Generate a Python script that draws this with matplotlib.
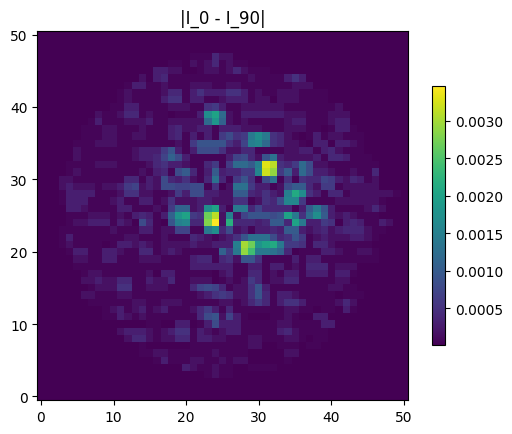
import numpy as np
import matplotlib
matplotlib.use('Agg')
import matplotlib.pyplot as plt

# grid size and colour limits
n_cells = 51
bg_level = 0.00001
peak_level = 0.00346
unit = 0.0001
# the two weakest marks are fainter than their nominal step
faint_1 = 0.00006
faint_2 = 0.00016

# values, in units of 0.0001
# row index: (first column, values from that column on)
rows = {
    47: (21, [1, 1, 1, 4, 2, 2]),
    46: (18, [1, 1, 0, 2, 1, 2, 4, 1, 2, 1, 1]),
    45: (16, [3, 3, 2, 2, 0, 0, 1, 2, 2, 1, 2, 4, 2, 1, 1, 1]),
    44: (14, [2, 0, 3, 4, 1, 1, 1, 1, 1, 1, 1, 1, 1, 1, 1, 2, 1, 1, 1, 1, 3, 5, 3]),
    43: (12, [1, 3, 3, 1, 1, 2, 1, 1, 1, 2, 2, 2, 1, 1, 2, 2, 1, 1, 1, 1, 1, 1, 1, 2, 2, 2]),
    42: (11, [1, 2, 1, 1, 1, 1, 2, 4, 4, 1, 3, 5, 3, 3, 3, 5, 5, 3, 1, 2, 1, 1, 2, 2, 2, 1, 1, 1, 1]),
    41: (11, [1, 2, 1, 1, 1, 1, 3, 5, 5, 1, 3, 3, 1, 1, 2, 3, 3, 3, 1, 2, 2, 0, 2, 2, 2, 1, 1, 1, 1]),
    40: (10, [1, 1, 3, 3, 1, 1, 1, 1, 2, 2, 2, 1, 1, 5, 6, 3, 1, 1, 2, 2, 2, 2, 2, 2, 1, 1, 1, 1, 1, 1, 1, 2]),
    39: (8, [2, 1, 1, 2, 4, 4, 1, 2, 1, 1, 0, 1, 1, 1, 3, 17, 20, 12, 2, 1, 3, 3, 3, 3, 3, 3, 2, 2, 2, 1, 1, 1, 2, 2, 2]),
    38: (7, [1, 3, 1, 1, 1, 2, 2, 2, 3, 1, 1, 2, 2, 2, 2, 2, 12, 18, 11, 2, 1, 2, 1, 1, 1, 1, 1, 2, 3, 3, 1, 1, 1, 2, 3, 3]),
    37: (6, [1, 1, 1, 2, 2, 1, 1, 1, 2, 1, 1, 1, 3, 4, 2, 2, 3, 3, 1, 3, 3, 3, 2, 2, 2, 1, 1, 1, 2, 2, 2, 1, 1, 0, 1, 3, 3, 1]),
    36: (6, [1, 1, 1, 2, 2, 1, 1, 2, 2, 1, 1, 1, 3, 4, 1, 3, 1, 3, 1, 6, 8, 5, 6, 14, 17, 14, 5, 4, 2, 1, 0, 1, 3, 1, 2, 2, 1, 1, 1]),
    35: (5, [1, 1, 1, 2, 2, 2, 1, 1, 1, 1, 1, 1, 1, 1, 2, 1, 6, 9, 9, 9, 9, 5, 3, 7, 15, 16, 12, 5, 4, 2, 2, 1, 0, 3, 3, 0, 3, 3, 2, 1]),
    34: (5, [2, 1, 1, 1, 1, 1, 1, 1, 2, 3, 3, 3, 6, 9, 3, 1, 3, 8, 8, 8, 5, 2, 2, 4, 4, 1, 1, 1, 1, 2, 2, 3, 3, 1, 3, 4, 2, 1, 1, 1]),
    33: (5, [2, 1, 1, 1, 1, 1, 1, 1, 2, 3, 3, 4, 7, 11, 8, 3, 1, 1, 1, 1, 1, 3, 7, 8, 4, 2, 9, 13, 3, 2, 2, 2, 2, 3, 1, 4, 4, 3, 1, 1, 1]),
    32: (4, [1, 1, 1, 1, 2, 2, 2, 1, 1, 1, 1, 2, 4, 5, 3, 3, 2, 1, 1, 4, 6, 1, 6, 12, 12, 10, 15, 33, 31, 5, 4, 6, 12, 8, 2, 2, 1, 1, 1, 1, 1, 1, 1]),
    31: (4, [1, 2, 1, 1, 1, 1, 1, 1, 1, 1, 2, 1, 3, 4, 1, 8, 10, 4, 1, 3, 10, 3, 4, 4, 6, 6, 16, 32, 29, 6, 10, 3, 12, 8, 3, 3, 2, 1, 1, 2, 1, 1, 4]),
    30: (3, [2, 2, 1, 1, 1, 1, 1, 1, 1, 4, 4, 1, 3, 2, 8, 4, 3, 5, 2, 1, 4, 13, 4, 1, 6, 9, 5, 1, 8, 13, 1, 5, 1, 5, 4, 4, 7, 6, 3, 2, 4, 3, 1, 2]),
    29: (3, [2, 3, 2, 2, 2, 1, 2, 2, 3, 6, 7, 2, 3, 2, 8, 8, 7, 7, 8, 8, 1, 5, 0, 2, 13, 13, 6, 3, 3, 1, 2, 8, 10, 10, 4, 2, 6, 6, 1, 2, 2, 2, 2, 2]),
    28: (3, [1, 3, 3, 3, 3, 1, 1, 1, 2, 5, 5, 2, 2, 1, 1, 2, 6, 3, 8, 8, 3, 3, 2, 2, 10, 10, 4, 3, 5, 3, 2, 15, 21, 17, 5, 3, 1, 4, 4, 1, 2, 2, 2, 2, 2, 2, 1]),
    27: (3, [1, 3, 3, 3, 1, 1, 1, 2, 3, 1, 1, 3, 3, 1, 2, 5, 2, 2, 2, 3, 3, 2, 2, 2, 5, 5, 1, 2, 5, 4, 8, 16, 16, 6, 1, 1, 1, 1, 2, 2, 2, 2, 2, 2, 1]),
    26: (4, [3, 3, 2, 1, 1, 1, 1, 3, 3, 1, 1, 1, 2, 1, 6, 11, 11, 2, 3, 17, 20, 3, 1, 14, 14, 4, 7, 4, 4, 4, 4, 1, 3, 10, 14, 9, 3, 1, 1, 1, 1, 2, 4, 2]),
    25: (4, [1, 1, 1, 2, 2, 2, 1, 2, 1, 3, 4, 3, 1, 3, 11, 18, 20, 6, 5, 27, 31, 2, 15, 2, 7, 9, 9, 9, 8, 9, 20, 14, 5, 12, 17, 10, 3, 2, 3, 2, 1, 1, 1]),
    24: (4, [1, 2, 2, 3, 3, 3, 1, 3, 2, 0, 8, 4, 1, 0, 9, 15, 16, 4, 4, 28, 35, 2, 22, 4, 4, 4, 3, 4, 10, 10, 4, 20, 14, 3, 3, 6, 5, 0, 3, 4, 3, 1, 1, 3, 2]),
    23: (3, [1, 1, 1, 1, 1, 1, 1, 2, 1, 1, 1, 3, 3, 1, 2, 2, 7, 7, 1, 1, 14, 17, 4, 8, 2, 3, 1, 3, 3, 4, 3, 10, 10, 3, 2, 3, 4, 2, 3, 4, 4, 4, 2, 1, 1]),
    22: (3, [1, 3, 1, 1, 1, 1, 1, 1, 1, 2, 2, 1, 1, 1, 2, 1, 1, 1, 4, 3, 2, 1, 2, 3, 5, 9, 13, 13, 13, 8, 4, 5, 9, 6, 1, 2, 3, 2, 2, 2, 3, 3, 2, 1]),
    21: (3, [1, 2, 1, 1, 1, 1, 0, 1, 3, 3, 2, 3, 2, 1, 2, 2, 2, 2, 3, 2, 2, 3, 3, 3, 15, 30, 27, 18, 20, 21, 14, 6, 6, 5, 1, 4, 4, 2, 1, 1, 1, 1, 1]),
    20: (4, [1, 3, 3, 1, 1, 3, 3, 2, 1, 1, 4, 4, 1, 2, 3, 2, 1, 1, 1, 1, 1, 11, 6, 14, 29, 24, 14, 14, 13, 11, 4, 0, 1, 1, 1, 3, 3, 2, 1, 1, 2, 2, 1]),
    19: (5, [2, 2, 1, 1, 3, 3, 1, 1, 1, 2, 2, 2, 1, 1, 1, 1, 3, 4, 4, 1, 4, 5, 2, 9, 9, 5, 1, 1, 1, 1, 3, 1, 3, 3, 1, 1, 1, 1, 1, 1, 1, 1]),
    18: (5, [1, 1, 1, 1, 1, 1, 1, 1, 1, 1, 1, 1, 1, 1, 1, 1, 3, 3, 3, 3, 3, 3, 1, 1, 3, 3, 1, 3, 3, 1, 2, 1, 4, 4, 4, 1, 2, 2, 2]),
    17: (6, [1, 2, 2, 1, 1, 1, 1, 1, 1, 2, 0, 3, 3, 1, 1, 1, 1, 1, 0, 2, 3, 1, 1, 4, 4, 1, 2, 1, 3, 3, 1, 3, 3, 3, 1, 3, 3, 1]),
    16: (6, [2, 2, 3, 2, 2, 4, 4, 1, 1, 3, 2, 2, 4, 1, 1, 2, 2, 2, 0, 1, 2, 1, 2, 6, 4, 1, 2, 2, 4, 4, 1, 1, 1, 1, 1, 2, 2]),
    15: (7, [1, 2, 2, 2, 5, 5, 1, 1, 2, 2, 2, 1, 1, 1, 4, 7, 8, 7, 4, 1, 2, 2, 5, 9, 3, 1, 1, 1, 1, 1, 1, 1, 1, 2, 2, 1, 1]),
    14: (6, [2, 2, 1, 1, 1, 2, 2, 1, 1, 1, 1, 1, 1, 1, 1, 1, 2, 3, 5, 6, 5, 2, 2, 5, 9, 4, 1, 3, 3, 2, 1, 1, 1, 1, 1, 0, 1, 1, 1]),
    13: (7, [1, 1, 1, 1, 1, 1, 2, 2, 1, 1, 2, 2, 2, 1, 1, 1, 1, 1, 2, 2, 1, 2, 4, 6, 4, 1, 3, 5, 5, 3, 1, 1, 1, 1, 2, 4, 2]),
    12: (9, [1, 2, 3, 1, 2, 3, 1, 2, 3, 1, 1, 1, 2, 4, 6, 3, 1, 4, 1, 1, 1, 1, 1, 1, 1, 2, 2, 1, 1, 0, 1, 1, 0, 3, 1]),
    11: (9, [1, 1, 3, 2, 1, 2, 1, 1, 1, 1, 1, 1, 1, 4, 8, 9, 2, 7, 3, 1, 0, 0, 0, 1, 1, 2, 1, 0, 0, 3, 3]),
    10: (15, [1, 1, 0, 0, 3, 3, 0, 1, 3, 8, 3, 3, 3, 1, 1, 1, 1, 1, 2, 2, 1, 1, 1, 1, 3, 3]),
    9: (11, [2, 3, 3, 3, 2, 1, 2, 3, 5, 5, 1, 3, 2, 1, 2, 3, 3, 1, 1, 1, 1, 1, 3, 4, 2, 1, 1, 1, 1]),
    8: (12, [2, 4, 4, 2, 1, 2, 2, 4, 4, 1, 3, 3, 2, 2, 1, 1, 1, 2, 2, 1, 1, 1, 2, 2, 1, 0, 1, 1]),
    7: (14, [1, 0, 0, 0, 0, 0, 0, 1, 1, 1, 1, 1, 1, 1, 1, 2, 2, 0, 0, 1, 1, 1, 0, 1, 1]),
    6: (14, [1, 1, 2, 2, 1, 1, 1, 1, 1, 1, 2, 1, 1, 1, 1, 0, 0, 0, 0, 0, 2, 2]),
    5: (16, [1, 3, 1, 1, 1, 2, 2, 1, 1, 2, 1, 2, 2, 0, 0, 0, 0, 0, 1]),
    4: (20, [3, 2, 1, 1, 2, 1, 1, 0, 0, 1, 1, 1, 1]),
    3: (23, [1, 2, 1, 1]),
}

# fill the grid row by row
steps = np.zeros((n_cells, n_cells))
for r, (first_col, vals) in rows.items():
    steps[r, first_col:first_col + len(vals)] = vals
I_diff = steps * unit
I_diff[steps == 1] = faint_1
I_diff[steps == 2] = faint_2
I_diff[I_diff < bg_level] = bg_level
I_diff[24, 24] = peak_level

fig = plt.figure(figsize=(5.12, 4.35), dpi=100)
ax = fig.add_axes([37.3 / 512, 1 - 401 / 435, 370.4 / 512, 369 / 435])
im = ax.imshow(I_diff, origin='lower', cmap='viridis', vmin=bg_level, vmax=peak_level, aspect='auto')
ax.set_title('|I_0 - I_90|', fontsize=12)
ax.set_xticks(np.arange(0, 51, 10))
ax.set_yticks(np.arange(0, 51, 10))

cax = fig.add_axes([432.3 / 512, 1 - 346 / 435, 13 / 512, 259 / 435])
cbar = fig.colorbar(im, cax=cax)
cbar.set_ticks([0.0005, 0.0010, 0.0015, 0.0020, 0.0025, 0.0030])
cbar.set_ticklabels(['0.0005', '0.0010', '0.0015', '0.0020', '0.0025', '0.0030'])

fig.savefig('out.png', dpi=100)
